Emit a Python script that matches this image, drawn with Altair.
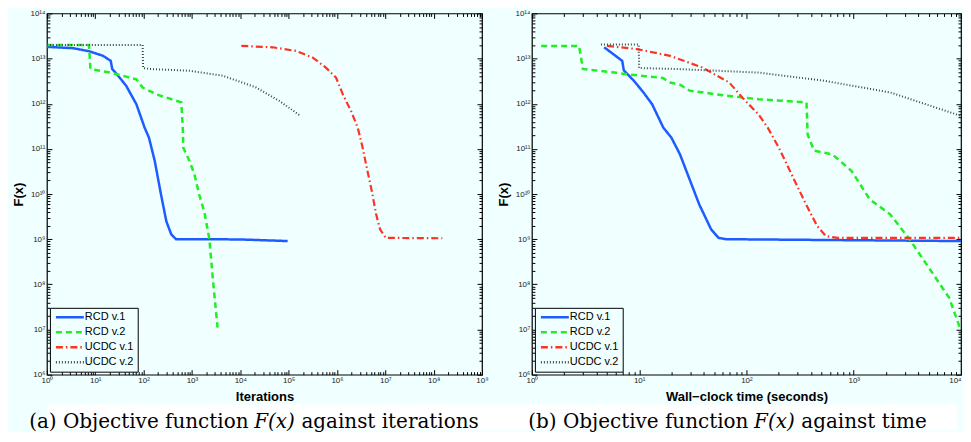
import altair as alt
import pandas as pd

SERIES = ["RCD v.1", "RCD v.2", "UCDC v.1", "UCDC v.2"]
COLORS = ["#1f5cff", "#22ee22", "#ff3322", "#444444"]
DASHES = [[1, 0], [6, 4], [7, 3, 1.5, 3], [1, 2]]
WIDTHS = [2.5, 2.5, 2.2, 2.0]
BG = "#F0FFFF"

# ---- panel (a): objective against iterations ----
a_rcd1_x = [1, 3.47, 7.59, 14.5, 20.9, 22.4, 29.5, 43.6, 70.8, 105, 129, 170, 229, 295, 372, 468, 9550, 95500]
a_rcd1_y = [1.82e13, 1.70e13, 1.45e13, 1.15e13, 8.9e12, 5.9e12, 4.2e12, 2.5e12, 9.8e11, 2.95e11, 1.78e11,
            5.4e10, 9.8e9, 2.5e9, 1.29e9, 1.0e9, 0.99e9, 9.1e8]
a_rcd2_x = [1, 7.41, 7.94, 19.95, 43.6, 70.8, 95.5, 182, 603, 646, 661, 891, 1122, 1413, 1820, 2291, 2692, 3388]
a_rcd2_y = [2.0e13, 2.0e13, 5.89e12, 4.9e12, 3.98e12, 3.47e12, 2.29e12, 1.62e12, 1.07e12, 2.95e11, 1.07e11,
            5.37e10, 2.75e10, 9.77e9, 3.89e9, 1.0e9, 1.41e8, 1.1e7]
a_ucdc1_x = [1.05e4, 4.68e4, 1.41e5, 3.16e5, 5.89e5, 9.55e5, 1.32e6, 1.95e6, 2.69e6, 3.39e6, 4.27e6, 5.25e6,
             6.46e6, 7.76e6, 1.02e7, 1.51e8]
a_ucdc1_y = [1.91e13, 1.78e13, 1.48e13, 1.05e13, 6.31e12, 3.8e12, 1.62e12, 6.92e11, 2.95e11, 1.07e11, 3.24e10,
             1.17e10, 3.55e9, 1.66e9, 1.07e9, 1.05e9]
a_ucdc2_x = [1, 95.5, 97.7, 132, 891, 4365, 2.14e4, 6.46e4, 1.66e5]
a_ucdc2_y = [2.0e13, 2.0e13, 6.17e12, 5.89e12, 5.37e12, 4.17e12, 2.29e12, 1.15e12, 5.62e11]

# ---- panel (b): objective against wall-clock time ----
b_rcd1_x = [4.72, 6.95, 7.19, 8.91, 10.96, 13.2, 16.8, 19.95, 24.0, 36.3, 46.8, 55.0, 64.6, 1e4]
b_rcd1_y = [1.78e13, 8.91e12, 5.5e12, 3.24e12, 1.78e12, 9.77e11, 2.95e11, 1.78e11, 7.59e10, 5.89e9, 1.66e9,
            1.07e9, 1.0e9, 9.1e8]
b_rcd2_x = [1.22, 2.75, 2.99, 5.89, 7.76, 16.6, 19.5, 24.0, 29.5, 64.6, 129, 363, 372, 427, 631, 955, 1413,
            2188, 3311, 5012, 7762, 9772]
b_rcd2_y = [1.91e13, 1.91e13, 5.89e12, 4.9e12, 4.47e12, 3.72e12, 2.95e12, 2.63e12, 1.95e12, 1.51e12, 1.26e12,
            1.07e12, 2.09e11, 9.12e10, 7.59e10, 3.24e10, 7.59e9, 3.55e9, 1.0e9, 2.34e8, 5.01e7, 1.1e7]
b_ucdc1_x = [5.01, 9.55, 19.5, 38.9, 69.2, 91.2, 129, 158, 200, 282, 372, 457, 550, 708, 1e4]
b_ucdc1_y = [1.91e13, 1.62e13, 1.15e13, 6.31e12, 2.95e12, 1.38e12, 5.89e11, 2.95e11, 1.07e11, 1.95e10, 5.01e9,
             1.95e9, 1.17e9, 1.07e9, 1.07e9]
b_ucdc2_x = [4.40, 9.89, 10.0, 22.4, 129, 525, 2188, 1e4]
b_ucdc2_y = [2.04e13, 2.04e13, 6.17e12, 5.89e12, 4.9e12, 3.24e12, 1.78e12, 5.37e11]

SUP = ["\u2070", "\u00b9", "\u00b2", "\u00b3", "\u2074", "\u2075", "\u2076", "\u2077", "\u2078", "\u2079"]
def sup_label(k):
    return "10" + "".join(SUP[int(c)] for c in str(k))

y_exps = list(range(6, 15))
a_x_exps = list(range(0, 10))
b_x_exps = list(range(0, 5))
tick_labels = [sup_label(k) for k in range(0, 15)]

# caption pieces: (before, italic math, after)
CAPTIONS = [("(a) Objective function", "F(x)", "against iterations"),
            ("(b) Objective function", "F(x)", "against time")]
X_TITLES = ["Iterations", "Wall\u2212clock time (seconds)"]

H = 362
LABEL_FONT = "Liberation Sans"


def minor_vals(exps):
    out = []
    for k in exps[:-1]:
        for m in range(2, 10):
            out.append(m * 10 ** k)
    return out


def axis(orient, values, major, labels=False, title=None, last_right=None):
    size = 5 if major else 3
    kw = dict(orient=orient, values=values, tickSize=size, offset=-size, domain=False, grid=False,
              tickColor="black", tickWidth=1, labels=labels, title=title)
    if labels:
        expr = "[" + ",".join("'%s'" % s for s in tick_labels) + "][round(log(datum.value)/LN10)]"
        kw.update(labelExpr=expr, labelPadding=2, labelFlush=False, labelOverlap=False,
                  labelFont=LABEL_FONT, labelFontSize=8, labelColor="#222",
                  titleFont=LABEL_FONT, titleFontSize=13, titleFontWeight="bold", titleColor="black",
                  titlePadding=6 if orient == "bottom" else 4, minExtent=0)
        if last_right is not None:
            kw["labelAlign"] = {"condition": {"test": "datum.value >= %g" % last_right, "value": "right"},
                                "value": "center"}
    else:
        kw.update(minExtent=0, maxExtent=0)
    return alt.Axis(**kw)


def panel(xs_list, ys_list, x_exps, xtitle, width, last_right=None):
    xmaj = [10 ** k for k in x_exps]
    xmin = minor_vals(x_exps)
    ymaj = [10 ** k for k in y_exps]
    ymin = minor_vals(y_exps)
    xscale = alt.Scale(type="log", domain=[xmaj[0], xmaj[-1]], nice=False)
    yscale = alt.Scale(type="log", domain=[ymaj[0], ymaj[-1]], nice=False)
    cscale = alt.Scale(domain=SERIES, range=COLORS)
    dscale = alt.Scale(domain=SERIES, range=DASHES)
    leg = alt.Legend(title=None, orient="bottom-left")
    axes = [
        (axis("bottom", xmaj, True, True, xtitle, last_right), axis("left", ymaj, True, True, "F(x)")),
        (axis("bottom", xmin, False), axis("left", ymin, False)),
        (axis("top", xmaj, True), axis("right", ymaj, True)),
        (axis("top", xmin, False), axis("right", ymin, False)),
    ]
    layers = []
    for i, s in enumerate(SERIES):
        df = pd.DataFrame({"x": xs_list[i], "y": ys_list[i], "series": s,
                           "i": list(range(len(xs_list[i])))})
        layers.append(
            alt.Chart(df).mark_line(strokeWidth=WIDTHS[i], clip=True).encode(
                x=alt.X("x:Q", scale=xscale, axis=axes[i][0]),
                y=alt.Y("y:Q", scale=yscale, axis=axes[i][1]),
                color=alt.Color("series:N", scale=cscale, legend=leg),
                strokeDash=alt.StrokeDash("series:N", scale=dscale, legend=leg),
                order=alt.Order("i:Q"),
            )
        )
    return alt.layer(*layers).resolve_axis(x="independent", y="independent").properties(width=width, height=H)


left = panel([a_rcd1_x, a_rcd2_x, a_ucdc1_x, a_ucdc2_x],
             [a_rcd1_y, a_rcd2_y, a_ucdc1_y, a_ucdc2_y], a_x_exps, X_TITLES[0], 436)
right = panel([b_rcd1_x, b_rcd2_x, b_ucdc1_x, b_ucdc2_x],
              [b_rcd1_y, b_rcd2_y, b_ucdc1_y, b_ucdc2_y], b_x_exps, X_TITLES[1], 430, last_right=1e4)

top = alt.hconcat(left, right, spacing=8).resolve_scale(
    x="independent", y="independent", color="independent", strokeDash="independent")

# horizontal centres of the italic "F(x)" in each caption (caption-chart pixels)
cap_layers = []
for (pre, mid, post), cx in zip(CAPTIONS, [228, 729]):
    for txt, align, dx, style in [(pre, "right", -26, "normal"), (mid, "center", 0, "italic"),
                                  (post, "left", 27, "normal")]:
        cap_layers.append(
            alt.Chart(pd.DataFrame({"t": [txt]})).mark_text(
                font="DejaVu Serif", fontSize=20, color="black", baseline="middle", align=align,
                fontStyle=style
            ).encode(text="t:N", x=alt.value(cx + dx), y=alt.value(17))
        )
caption = alt.layer(*cap_layers).properties(
    width=912, height=25, view=alt.ViewBackground(fill="white", strokeWidth=0, strokeOpacity=0))

chart = alt.concat(top, caption, columns=1, spacing=0, align="none").configure(
    background=BG, padding={"left": 4, "top": 0, "right": 0, "bottom": 0}
).configure_view(stroke="black", strokeWidth=1.2).configure_legend(
    orient="bottom-left", offset=3, padding=4, rowPadding=3, fillColor=BG, strokeColor="black",
    labelFont=LABEL_FONT, labelFontSize=11, labelColor="black", symbolType="M-1,0H7",
    symbolSize=49, symbolStrokeWidth=2.5, cornerRadius=0, labelOffset=20
)

chart.save("out.html", embed_options={"renderer": "svg", "actions": False})
